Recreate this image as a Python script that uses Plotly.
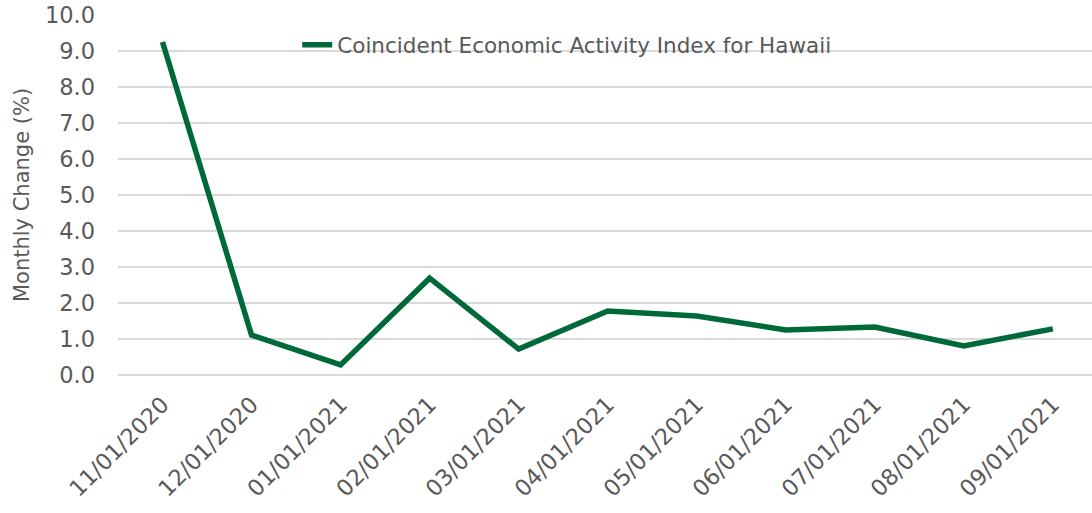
import plotly.graph_objects as go

dates = ["11/01/2020", "12/01/2020", "01/01/2021", "02/01/2021", "03/01/2021",
         "04/01/2021", "05/01/2021", "06/01/2021", "07/01/2021", "08/01/2021",
         "09/01/2021"]
monthly_change = [9.25, 1.11, 0.28, 2.69, 0.72, 1.78, 1.64, 1.25, 1.33, 0.81, 1.28]
series_name = "Coincident Economic Activity Index for Hawaii"
y_ticks = [0, 1, 2, 3, 4, 5, 6, 7, 8, 9, 10]

fig = go.Figure()
fig.add_trace(go.Scatter(
    x=dates, y=monthly_change, mode="lines", name=series_name,
    line=dict(color="#00693A", width=5.5),
))

font_family = "Verdana, DejaVu Sans, sans-serif"
fig.update_layout(
    width=1092, height=513,
    margin=dict(l=118, r=0, t=15, b=138),
    paper_bgcolor="white", plot_bgcolor="white",
    font=dict(family=font_family, color="#595959"),
    showlegend=True,
    legend=dict(x=0.184, y=0.917, xanchor="left", yanchor="middle",
                font=dict(size=21.5, color="#595959"),
                bgcolor="rgba(0,0,0,0)"),
    xaxis=dict(
        type="category", range=[-0.5, 10.44], automargin=False,
        tickangle=-45, tickfont=dict(size=22.5, color="#595959"),
        showgrid=False, showline=False, zeroline=False, ticks="",
        ticklabeloverflow="allow", ticklabelstandoff=11,
    ),
    yaxis=dict(
        range=[0, 10], tickvals=y_ticks, automargin=False,
        ticktext=[f"{v:.1f}" for v in y_ticks],
        tickfont=dict(size=22.5, color="#595959"),
        showgrid=True, gridcolor="#D9D9D9", gridwidth=2,
        zeroline=True, zerolinecolor="#D9D9D9", zerolinewidth=2,
        ticklabelstandoff=22, ticklabeloverflow="allow",
        title=dict(text="Monthly Change (%)", font=dict(size=21, color="#595959"),
                   standoff=9),
    ),
)

fig.write_html("out.html", config={"displayModeBar": False},
               post_script="document.body.style.margin='0';")
